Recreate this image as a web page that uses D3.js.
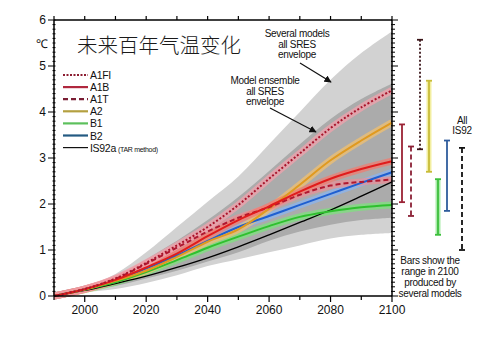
<!DOCTYPE html>
<html><head><meta charset="utf-8">
<script src="https://cdn.jsdelivr.net/npm/d3@7"></script>
<style>
body{margin:0;background:#fff;}
svg{display:block;font-family:"Liberation Sans",Arial,sans-serif;}
</style></head>
<body>
<svg id="c" width="480" height="355"></svg>
<script>
// ---------- data ----------
const years = [1990,2000,2010,2020,2030,2040,2050,2060,2070,2080,2090,2100];
const A1FI  = [0,0.15,0.38,0.72,1.10,1.50,1.98,2.55,3.10,3.65,4.10,4.47];
const A1B   = [0,0.15,0.35,0.62,0.92,1.30,1.65,1.95,2.27,2.55,2.76,2.93];
const A1T   = [0,0.15,0.37,0.70,1.05,1.40,1.70,1.93,2.20,2.40,2.48,2.53];
const A2    = [0,0.14,0.33,0.55,0.85,1.18,1.45,1.90,2.42,2.95,3.38,3.77];
const B1    = [0,0.14,0.30,0.52,0.78,1.05,1.29,1.52,1.72,1.84,1.93,1.98];
const B2    = [0,0.15,0.34,0.60,0.88,1.20,1.50,1.74,1.98,2.22,2.46,2.69];
const IS92a = [0,0.12,0.27,0.43,0.62,0.83,1.07,1.33,1.60,1.87,2.17,2.48];
const outerHi = [0,0.20,0.48,0.95,1.50,2.05,2.60,3.30,4.00,4.70,5.28,5.75];
const outerLo = [0,0.08,0.15,0.28,0.45,0.65,0.80,0.95,1.10,1.25,1.33,1.37];
const innerHi = [0,0.18,0.42,0.80,1.20,1.65,2.15,2.72,3.30,3.85,4.28,4.62];
const innerLo = [0,0.12,0.22,0.38,0.55,0.75,0.95,1.20,1.40,1.55,1.65,1.70];
const barNames = ["A1B","A1T","A1FI","A2","B1","B2","IS92"];
const barLow   = [2.04,1.74,3.19,2.70,1.33,1.85,1.00];
const barHigh  = [3.73,3.25,5.57,4.68,2.54,3.38,3.22];
const xTicks = [2000,2020,2040,2060,2080,2100];
const yTicks = [0,1,2,3,4,5,6];
const legendNames = ["A1FI","A1B","A1T","A2","B1","B2","IS92a"];

// ---------- setup ----------
const svg = d3.select("#c");
const x = d3.scaleLinear().domain([1990,2100]).range([54,392]);
const y = d3.scaleLinear().domain([0,6]).range([296,20]);
const curve = d3.curveCatmullRom.alpha(0.5);

const area = (hi,lo)=>d3.area().x((d,i)=>x(years[i])).y0((d,i)=>y(lo[i])).y1((d,i)=>y(hi[i])).curve(curve)(years);
svg.append("path").attr("d",area(outerHi,outerLo)).attr("fill","#d2d2d2");
svg.append("path").attr("d",area(innerHi,innerLo)).attr("fill","#ababab");

const line = d3.line().x((d,i)=>x(years[i])).y(d=>y(d)).curve(curve);
const series = [
 {v:IS92a, c:"#000", halo:null, w:1.3, dash:null},
 {v:B1, c:"#2fc02f", halo:"#7ee27e", w:2, dash:null},
 {v:B2, c:"#1f5fd0", halo:"#8ab4f0", w:2, dash:null},
 {v:A2, c:"#e09a20", halo:"#f0c070", w:2, dash:null},
 {v:A1T, c:"#b01830", halo:"#e89098", w:2, dash:"5,3"},
 {v:A1B, c:"#e01c1c", halo:"#f07c70", w:2, dash:null},
 {v:A1FI, c:"#a8142a", halo:"#f2a2ac", w:2, dash:"2,2"},
];
series.forEach(s=>{ if(s.halo) svg.append("path").attr("d",line(s.v)).attr("fill","none").attr("stroke",s.halo).attr("stroke-width",7).attr("opacity",0.75); });
series.forEach(s=>{ svg.append("path").attr("d",line(s.v)).attr("fill","none").attr("stroke",s.c).attr("stroke-width",s.w).attr("stroke-dasharray",s.dash); });

// ---------- axes ----------
const ax = svg.append("g").attr("stroke","#000").attr("fill","none");
ax.append("line").attr("x1",x(1990)).attr("x2",x(2100)).attr("y1",y(0)).attr("y2",y(0)).attr("stroke-width",1.5);
ax.append("line").attr("x1",x(1990)).attr("x2",x(2100)).attr("y1",y(6)).attr("y2",y(6)).attr("stroke-width",1.5);
ax.append("line").attr("x1",x(1990)).attr("x2",x(1990)).attr("y1",y(0)).attr("y2",y(6)).attr("stroke-width",1.5);
ax.append("line").attr("x1",x(2100)).attr("x2",x(2100)).attr("y1",y(0)).attr("y2",y(6)).attr("stroke-width",1.5);
d3.range(1990,2101,10).forEach(t=>{
  const major = (t%20===0);
  ax.append("line").attr("x1",x(t)).attr("x2",x(t)).attr("y1",y(0)).attr("y2",y(0)+(major?6:4)).attr("stroke-width",1.2);
  ax.append("line").attr("x1",x(t)).attr("x2",x(t)).attr("y1",y(6)).attr("y2",y(6)-4).attr("stroke-width",1.2);
});
d3.range(0,60.5,1).forEach(k=>{
  const v=k/10, major=(k%10===0);
  ax.append("line").attr("x1",x(1990)-(major?6:1.5)).attr("x2",x(1990)+1.5).attr("y1",y(v)).attr("y2",y(v)).attr("stroke-width",1);
  ax.append("line").attr("x1",x(2100)-1).attr("x2",x(2100)+(major?6:3)).attr("y1",y(v)).attr("y2",y(v)).attr("stroke-width",1);
});
svg.selectAll(".xl").data(xTicks).enter().append("text").attr("x",d=>x(d)).attr("y",y(0)+18)
  .attr("text-anchor","middle").attr("font-size",12).attr("fill","#111").text(d=>d);
svg.selectAll(".yl").data(yTicks).enter().append("text").attr("x",x(1990)-8).attr("y",d=>y(d)+4)
  .attr("text-anchor","end").attr("font-size",12).attr("fill","#111").text(d=>d);
svg.append("text").attr("x",36).attr("y",48).attr("font-size",12).attr("fill","#111").text("℃");

// title
svg.append("text").attr("x",77).attr("y",53).attr("font-family","'Noto Sans CJK SC'").attr("font-weight",300)
  .attr("font-size",20.5).attr("fill","#1a1a1a").text("未来百年气温变化");

// ---------- legend ----------
const legStyle = {A1FI:["#8b1c30","2,1.5"],A1B:["#b0283e",null],A1T:["#7a1e34","5,3"],A2:["#b4a040",null],B1:["#5cc05c",null],B2:["#245a82",null],IS92a:["#111",null]};
const lg = svg.append("g");
legendNames.forEach((n,i)=>{
  const yy = 75 + i*12.1;
  lg.append("line").attr("x1",63).attr("x2",88).attr("y1",yy).attr("y2",yy)
    .attr("stroke",legStyle[n][0]).attr("stroke-width",n==="IS92a"?1.2:2.2).attr("stroke-dasharray",legStyle[n][1]);
  const t = lg.append("text").attr("x",90).attr("y",yy+4).attr("font-size",10.5).attr("fill","#111").attr("letter-spacing",-0.3);
  t.append("tspan").text(n);
  if(n==="IS92a") t.append("tspan").attr("font-size",7).attr("dx",2).text("(TAR method)");
});

// ---------- annotations ----------
function multi(lines,cx,y0,lh){
  const t = svg.append("text").attr("text-anchor","middle").attr("font-size",10).attr("fill","#111").attr("letter-spacing",-0.3);
  lines.forEach((s,i)=>t.append("tspan").attr("x",cx).attr("y",y0+i*lh).text(s));
}
multi(["Several models","all SRES","envelope"],297,37,10.7);
multi(["Model ensemble","all SRES","envelope"],265,84,10.5);
svg.append("defs").append("marker").attr("id","ah").attr("viewBox","0 0 10 10").attr("refX",9).attr("refY",5)
  .attr("markerWidth",6).attr("markerHeight",6).attr("orient","auto")
  .append("path").attr("d","M0,0L10,5L0,10z").attr("fill","#111");
svg.append("line").attr("x1",300).attr("y1",63).attr("x2",331).attr("y2",82).attr("stroke","#111").attr("stroke-width",1.2).attr("marker-end","url(#ah)");
svg.append("line").attr("x1",270).attr("y1",108).attr("x2",316).attr("y2",132).attr("stroke","#111").attr("stroke-width",1.2).attr("marker-end","url(#ah)");

// ---------- range bars ----------
const barStyle = {A1B:["#9b2335",null,null],A1T:["#8b2035","5,3",null],A1FI:["#3a1418","2,2",null],
  A2:["#c8bc38",null,"#f2eea0"],B1:["#3cbf3c",null,"#a8eaa8"],B2:["#2f5c9c",null,null],IS92:["#111","5,3",null]};
const xb = d3.scalePoint().domain(["A1B","A1T","A1FI","A2","B1","B2","gap","IS92"]).range([402,465]);
barNames.forEach((n,i)=>{
  const bx = n==="IS92" ? xb(n)-3 : xb(n);
  const st = barStyle[n];
  if(st[2]) svg.append("line").attr("x1",bx).attr("x2",bx).attr("y1",y(barHigh[i])).attr("y2",y(barLow[i])).attr("stroke",st[2]).attr("stroke-width",5);
  svg.append("line").attr("x1",bx).attr("x2",bx).attr("y1",y(barHigh[i])).attr("y2",y(barLow[i])).attr("stroke",st[0]).attr("stroke-width",1.8).attr("stroke-dasharray",st[1]);
  [barHigh[i],barLow[i]].forEach(v=>svg.append("line").attr("x1",bx-3).attr("x2",bx+3).attr("y1",y(v)).attr("y2",y(v)).attr("stroke",st[0]).attr("stroke-width",1.8));
});
multi(["All","IS92"],xb("IS92")-3,124,10);
multi(["Bars show the","range in 2100","produced by","several models"],430,264,11);
</script>
</body></html>
